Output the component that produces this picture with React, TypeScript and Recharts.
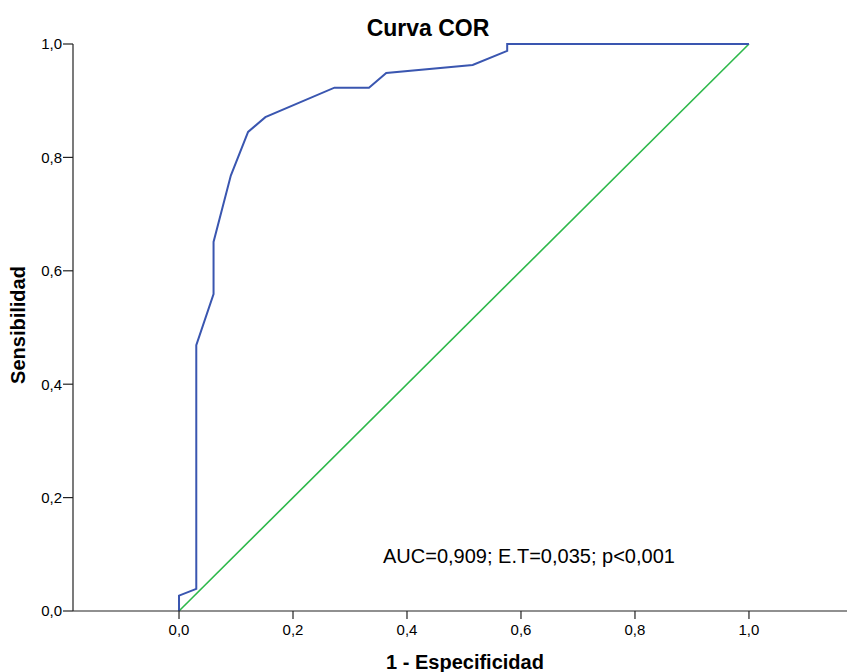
import { LineChart, Line, XAxis, YAxis } from "recharts";

// 1 - especificidad / sensibilidad
const fpr = [0, 0, 0.0303, 0.0303, 0.0606, 0.0606, 0.0909, 0.1212, 0.1515, 0.2727, 0.3333, 0.3636, 0.5152, 0.5758, 0.5758, 1];
const tpr = [0, 0.027, 0.039, 0.469, 0.559, 0.651, 0.768, 0.845, 0.871, 0.923, 0.923, 0.949, 0.963, 0.988, 1, 1];
const refX = [0, 1];
const refY = [0, 1];
const ticks = [0, 0.2, 0.4, 0.6, 0.8, 1.0];

const title = "Curva COR";
const xLabel = "1 - Especificidad";
const yLabel = "Sensibilidad";
const note = "AUC=0,909; E.T=0,035; p<0,001";

const W = 847;
const H = 672;
const FONT = "'Liberation Sans', Arial, sans-serif";

const rocData = fpr.map((x, i) => ({ x, y: tpr[i] }));
const diagData = refX.map((x, i) => ({ x, y: refY[i] }));

const fmt = (v: number) => v.toFixed(1).replace(".", ",");

export default function App() {
  return (
    <div style={{ position: "absolute", left: 0, top: 0, width: W, height: H, background: "#fff", fontFamily: FONT }}>
      <LineChart width={W} height={H} margin={{ top: 44, right: 0, bottom: 0, left: 0 }}>
        <XAxis
          type="number"
          dataKey="x"
          domain={[-0.186, 1.172]}
          allowDataOverflow
          ticks={ticks}
          tickFormatter={fmt}
          height={61}
          stroke="#222"
          strokeWidth={1.2}
          tickSize={8}
          tickMargin={5}
          tick={{ fill: "#000", fontSize: 15, fontFamily: FONT }}
        />
        <YAxis
          type="number"
          dataKey="y"
          domain={[0, 1]}
          ticks={ticks}
          tickFormatter={fmt}
          width={73}
          stroke="#222"
          strokeWidth={1.2}
          tickSize={10}
          tickMargin={1}
          tick={{ fill: "#000", fontSize: 15, fontFamily: FONT }}
        />
        <Line data={diagData} dataKey="y" type="linear" stroke="#2db84a" strokeWidth={1.6} dot={false} isAnimationActive={false} />
        <Line data={rocData} dataKey="y" type="linear" stroke="#3a56b0" strokeWidth={2} dot={false} isAnimationActive={false} />
      </LineChart>
      <svg width={W} height={H} style={{ position: "absolute", left: 0, top: 0, pointerEvents: "none" }}>
        <text x={428} y={36} textAnchor="middle" fontSize={23} fontWeight="bold" fontFamily={FONT} fill="#000">{title}</text>
        <text x={383} y={563} fontSize={20} fontFamily={FONT} fill="#000">{note}</text>
        <text x={465} y={669} textAnchor="middle" fontSize={20} fontWeight="bold" fontFamily={FONT} fill="#000">{xLabel}</text>
        <text x={25} y={325} textAnchor="middle" fontSize={20} fontWeight="bold" fontFamily={FONT} fill="#000" transform="rotate(-90 25 325)">{yLabel}</text>
      </svg>
    </div>
  );
}
